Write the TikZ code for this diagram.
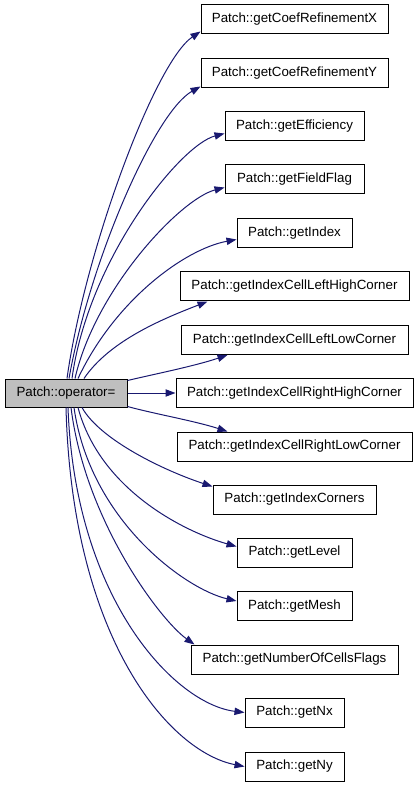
\documentclass[tikz,border=0pt]{standalone}
\usepackage{fontspec}
\setmainfont{Liberation Sans}
\usetikzlibrary{arrows.meta,calc}
\definecolor{edgeblue}{HTML}{191970}
\definecolor{opgray}{HTML}{BFBFBF}
\begin{document}
\begin{tikzpicture}[x=0.75pt,y=-0.75pt,
  fn/.style={draw=black,line width=0.75pt,fill=white,minimum height=21.75pt,inner sep=0pt,
    font=\fontsize{10}{12}\selectfont},
  wd/.style={minimum width=#1},
  call/.style={draw=edgeblue,line width=0.75pt,-{Triangle[length=7.5pt,width=5.5pt]}}]
\useasboundingbox (0,0) rectangle (419,787);
% caller
\node[fn,fill=opgray,wd=91.5pt,minimum height=21pt] (op) at (66,393) {Patch::operator=};
% callees
\node[fn,wd=140.25pt] (t1) at (294.5,19.5) {Patch::getCoefRefinementX};
\node[fn,wd=140.25pt] (t2) at (294.5,73.5) {Patch::getCoefRefinementY};
\node[fn,wd=104.25pt] (t3) at (294.5,126.5) {Patch::getEfficiency};
\node[fn,wd=104.25pt] (t4) at (294.5,179.5) {Patch::getFieldFlag};
\node[fn,wd=86.25pt] (t5) at (294.5,233) {Patch::getIndex};
\node[fn,wd=171.75pt] (t6) at (294.5,286.5) {Patch::getIndexCellLeftHighCorner};
\node[fn,wd=170.25pt] (t7) at (294.5,340) {Patch::getIndexCellLeftLowCorner};
\node[fn,wd=177.75pt] (t8) at (294.5,393) {Patch::getIndexCellRightHighCorner};
\node[fn,wd=176.25pt] (t9) at (294.5,446.5) {Patch::getIndexCellRightLowCorner};
\node[fn,wd=122.25pt] (t10) at (294.5,499.5) {Patch::getIndexCorners};
\node[fn,wd=86.25pt] (t11) at (294.5,552.5) {Patch::getLevel};
\node[fn,wd=86.25pt] (t12) at (294.5,606) {Patch::getMesh};
\node[fn,wd=155.25pt] (t13) at (294.5,659.5) {Patch::getNumberOfCellsFlags};
\node[fn,wd=74.25pt] (t14) at (294.5,712.5) {Patch::getNx};
\node[fn,wd=74.25pt] (t15) at (294.5,766.5) {Patch::getNy};
% connectors
\draw[call] ($(op.north)+(1,0)$) .. controls (85,250) and (155,62) .. ($(t1.south west)+(0,-3)$);
\draw[call] ($(op.north)+(3,0)$) .. controls (90,260) and (155,112) .. ($(t2.south west)+(0,-2)$);
\draw[call] ($(op.north)+(6,0)$) .. controls (88,260) and (180,145) .. ($(t3.south west)+(0,-8)$);
\draw[call] ($(op.north)+(9,0)$) .. controls (95,290) and (180,199) .. ($(t4.south west)+(0,-7)$);
\draw[call] ($(op.north)+(12,0)$) .. controls (115,300) and (185,249) .. ($(t5.south west)+(0,-8.5)$);
\draw[call] ($(op.north)+(18,0)$) .. controls (110,340) and (165,318) .. ($(t6.south west)+(28,0)$);
\draw[call] ($(op.north east)+(0,2)$) .. controls (155,374) and (195,366) .. ($(t7.south west)+(47,0)$);
\draw[call] (op.east) -- (t8.west);
\draw[call] ($(op.south east)+(0,-1)$) .. controls (155,414) and (195,421) .. ($(t9.north west)+(51,0)$);
\draw[call] ($(op.south)+(16,0)$) .. controls (100,440) and (165,471) .. ($(t10.north west)+(0,2)$);
\draw[call] ($(op.south)+(12,0)$) .. controls (100,490) and (185,532) .. ($(t11.north west)+(0,9)$);
\draw[call] ($(op.south)+(8,0)$) .. controls (90,520) and (185,589) .. ($(t12.north west)+(0,10)$);
\draw[call] ($(op.south)+(5,0)$) .. controls (85,520) and (160,620) .. ($(t13.north west)+(4,0)$);
\draw[call] ($(op.south)+(2,0)$) .. controls (75,600) and (175,704) .. (t14.west);
\draw[call] ($(op.south)+(0,0)$) .. controls (72,640) and (170,752) .. (t15.west);
\end{tikzpicture}
\end{document}
